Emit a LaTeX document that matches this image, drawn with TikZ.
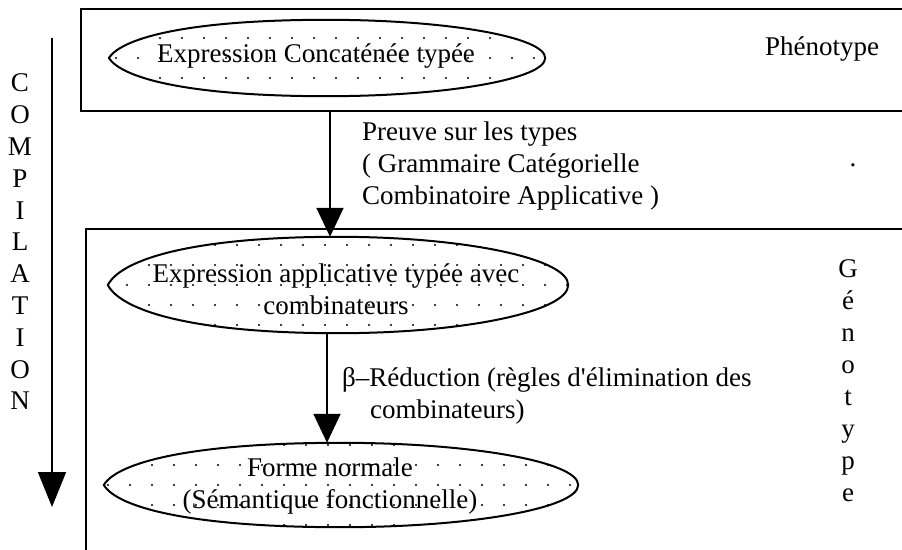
\documentclass[tikz,border=0pt]{standalone}
\usepackage{fontspec}
\setmainfont{Liberation Serif}
\usetikzlibrary{calc,arrows.meta}
\begin{document}
\begin{tikzpicture}[x=1pt,y=-1pt,
  txt/.style={font=\fontsize{27}{32}\selectfont, inner sep=0pt},
  stack/.style={txt, align=center, font=\fontsize{27}{#1}\selectfont},
  frame/.style={draw, line width=2.1pt, inner sep=0pt},
  slot/.style={rectangle, inner sep=0pt},
  % egg-shaped outline: pointed on the left, round on the right
  lens/.style={insert path={
    (#1.west)
      .. controls ($(#1.west)!0.55!(#1.north west)+(14,0)$) and ($(#1.north)!0.62!(#1.north west)$) .. (#1.north)
      .. controls ($(#1.north)!0.55!(#1.north east)$) and ($(#1.east)!0.55!(#1.north east)$) .. (#1.east)
      .. controls ($(#1.east)!0.55!(#1.south east)$) and ($(#1.south)!0.55!(#1.south east)$) .. (#1.south)
      .. controls ($(#1.south)!0.62!(#1.south west)$) and ($(#1.west)!0.55!(#1.south west)+(14,0)$) .. (#1.west)
      -- cycle}},
  outline/.style={line width=2pt, line join=round},
  flow/.style={line width=1.7pt, -{Triangle[width=27pt,length=29pt]}}]
% page area
\clip (0,0) rectangle (902,549);
\fill[white] (0,0) rectangle (902,549);

% phenotype and genotype frames (open on the right / bottom)
\node[frame, anchor=north west, minimum width=900pt, minimum height=102pt] (pheno) at (80,8) {};
\node[frame, anchor=north west, minimum width=900pt, minimum height=400pt] (geno) at (85,228) {};

% compilation axis
\node[stack=31.8] (comp) at (20,242) {C\\O\\M\\P\\I\\L\\A\\T\\I\\O\\N};
\coordinate (ctop) at (52,38);
\coordinate (cbot) at (52,507);
\draw[line width=1.7pt, -{Triangle[width=28pt,length=35pt]}] (ctop) -- (cbot);

% level labels
\node[txt] (phenolbl) at (822,49) {Phénotype};
\node[stack=32] (genolbl) at (848,381) {G\\é\\n\\o\\t\\y\\p\\e};

% expression areas
\node[slot, minimum width=436pt, minimum height=76pt] (e1) at (327,58) {};
\node[slot, minimum width=460pt, minimum height=96pt] (e2) at (338,285) {};
\node[slot, minimum width=474pt, minimum height=84pt] (e3) at (341,485) {};

\foreach \e in {e1,e2,e3}{
  \begin{scope}
    \clip[lens=\e];
    \foreach \i in {-12,...,12}
      \foreach \j in {-3,...,3}
        \fill (\e.center) ++(\i*22+9,\j*20) circle (1.2pt);
  \end{scope}
  \draw[outline, lens=\e];
}

\node[txt] (e1t) at (316,56) {Expression Concaténée typée};
\node[txt, align=center] (e2t) at (336,289) {Expression applicative typée avec\\combinateurs};
\node[txt, align=center] (e3t) at (330,486) {Forme normale\\(Sémantique fonctionnelle)};

% derivation steps
\draw[flow] (pheno.south -| 330,0) -- (e2.north -| 330,0);
\draw[flow] (e2.south -| 327,0) -- (e3.north -| 327,0);

\node[txt, align=left, anchor=north west] (proof) at (362,122) {Preuve sur les types\\( Grammaire Catégorielle\\Combinatoire Applicative )};
\node[txt] (stray) at (853,165) {.};

\node[txt, align=left, anchor=north west] (beta) at (342,367) {β–Réduction (règles d\textquotesingle élimination des\\\hspace*{28pt}combinateurs)};
\end{tikzpicture}
\end{document}
